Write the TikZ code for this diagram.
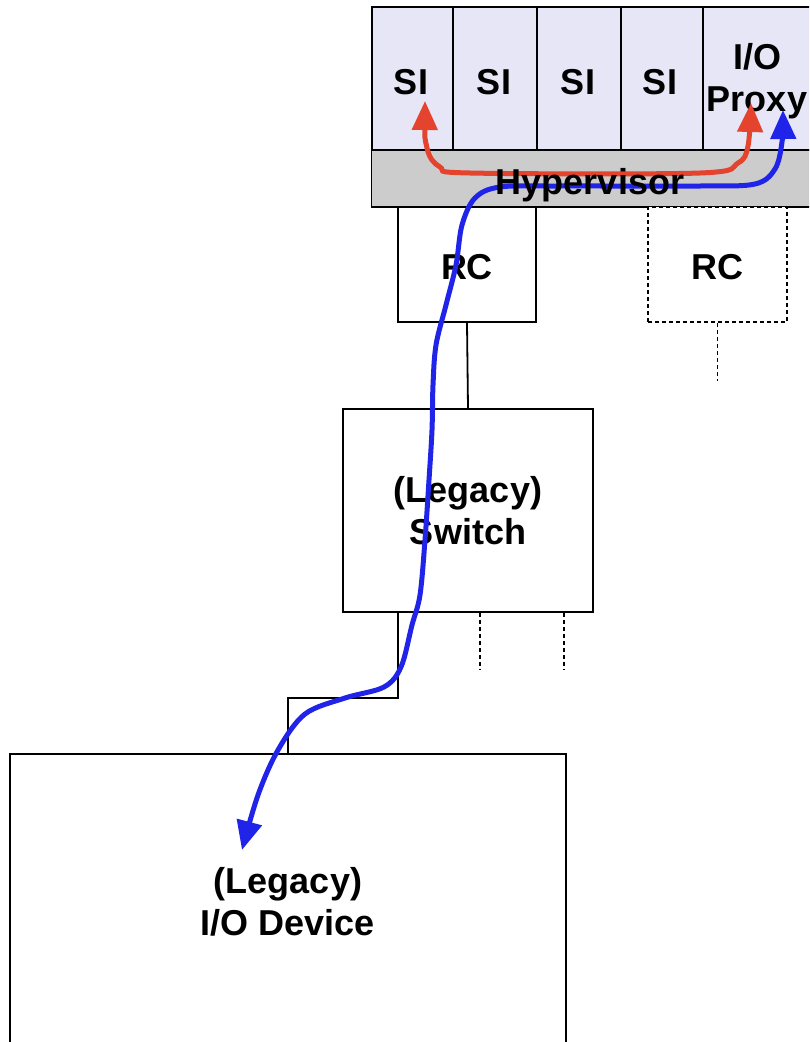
\documentclass[tikz,border=0pt]{standalone}
\usepackage{fontspec}
\setmainfont{Liberation Sans}
\usetikzlibrary{arrows.meta}
\definecolor{cellfill}{HTML}{E6E6F6}
\definecolor{hypfill}{HTML}{CCCCCC}
\definecolor{pathred}{HTML}{E4432D}
\definecolor{pathblue}{HTML}{2024E8}
\tikzset{
  box/.style={draw=black, line width=1.8pt, rectangle, inner sep=0pt, align=center,
    font=\fontsize{36}{42}\selectfont\bfseries},
  cell/.style={box, fill=cellfill},
  ghost/.style={box, dash pattern=on 4pt off 3pt},
  lbl/.style={inner sep=0pt, align=center, font=\fontsize{36}{42}\selectfont\bfseries},
  wire/.style={draw=black, line width=1.8pt},
  ghostwire/.style={draw=black, line width=1.8pt, dash pattern=on 4pt off 3pt},
  flow/.style={line width=5pt, line cap=round, {Triangle[length=29pt,width=25pt]}-{Triangle[length=29pt,width=25pt]}},
}
\begin{document}
\begin{tikzpicture}[x=1pt,y=-1pt]
\clip (0,0) rectangle (809,1042);
\fill[white] (0,0) rectangle (809,1042);
% top row
\node[cell, minimum width=81pt, minimum height=143pt] (si1) at (412.5,78.5) {};
\node[cell, minimum width=84pt, minimum height=143pt] (si2) at (495,78.5) {};
\node[cell, minimum width=84pt, minimum height=143pt] (si3) at (579,78.5) {};
\node[cell, minimum width=82pt, minimum height=143pt] (si4) at (662,78.5) {};
\node[cell, minimum width=108pt, minimum height=143pt] (proxy) at (757,78.5) {};
\node[lbl] (si1t) at (411,82) {SI};
\node[lbl] (si2t) at (494,82) {SI};
\node[lbl] (si3t) at (578,82) {SI};
\node[lbl] (si4t) at (660,82) {SI};
\node[lbl] (proxyt) at (757,81) {I/O\\Proxy};
\node[box, fill=hypfill, minimum width=439pt, minimum height=57pt] (hyp) at (591,178.5) {};
% root complexes
\node[box, fill=white, minimum width=138pt, minimum height=115pt] (rc) at (467,264.5) {};
\node[lbl] (rct) at (467,267) {RC};
\node[ghost, fill=white, minimum width=139pt, minimum height=115pt] (rc2) at (717.5,264.5) {};
\node[lbl] (rc2t) at (717.5,267) {RC};
% switch
\node[box, fill=white, minimum width=250pt, minimum height=203pt] (sw) at (468,510.5) {(Legacy)\\Switch};
% device
\node[box, fill=white, minimum width=556pt, minimum height=296pt] (dev) at (288,902) {(Legacy)\\I/O Device};
% connectors
\draw[wire] (rc.south) -- (sw.north);
\draw[wire] ([xshift=56pt]sw.south west) -- ++(0,85) -| (dev.north);
\draw[ghostwire] (rc2.south) -- ++(0,58);
\draw[ghostwire] ([xshift=138pt]sw.south west) -- ++(0,57);
\draw[ghostwire] ([xshift=222pt]sw.south west) -- ++(0,57);
% flows
\draw[flow, pathred] plot[smooth, tension=0.55] coordinates {(425,101) (427,148) (440,167) (470,173) (700,173) (738,163) (748,146) (751,103)};
\draw[flow, pathblue] plot[smooth, tension=0.55] coordinates {(783,110) (782,142) (775,169) (755,184) (700,186) (560,186) (500,187) (475,198) (462,225) (456,265) (446,305) (436,345) (433,385) (432,430) (429,480) (425,540) (420,595) (412,625) (401,667) (384,687) (345,698) (305,714) (278,750) (258,795) (242,850)};
% hypervisor label on top
\node[lbl] (hyplabel) at (590,185) {Hypervisor};
\end{tikzpicture}
\end{document}
